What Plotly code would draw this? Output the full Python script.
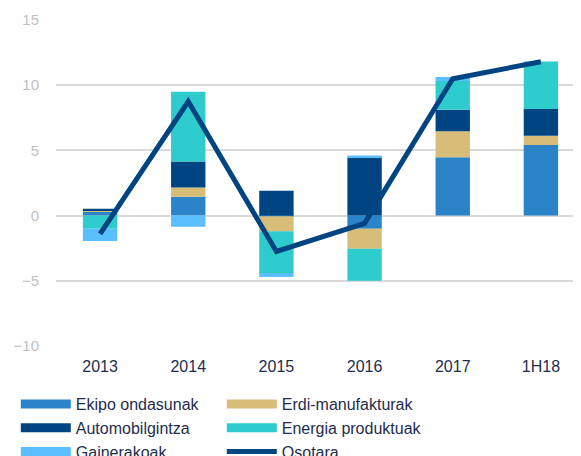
import plotly.graph_objects as go

categories = ["2013", "2014", "2015", "2016", "2017", "1H18"]
ekipo = [0.3, 1.45, -0.05, -1.0, 4.47, 5.42]
erdi = [0.1, 0.7, -1.15, -1.55, 2.0, 0.7]
auto = [0.12, 2.0, 1.9, 4.47, 1.65, 2.05]
energia = [-1.0, 5.35, -3.2, -2.45, 2.2, 3.65]
gainerakoak = [-0.95, -0.85, -0.3, 0.13, 0.3, 0.0]
osotara = [-1.4, 8.75, -2.75, -0.6, 10.5, 11.8]

series = [
    ("Ekipo ondasunak", ekipo, "#2b84c8"),
    ("Erdi-manufakturak", erdi, "#d7bd77"),
    ("Automobilgintza", auto, "#004481"),
    ("Energia produktuak", energia, "#2ecccc"),
    ("Gainerakoak", gainerakoak, "#5bbeff"),
]

fig = go.Figure()
for name, vals, col in series:
    fig.add_trace(go.Bar(x=categories, y=vals, name=name, marker=dict(color=col, line=dict(width=0)),
                         showlegend=False))
for name, vals, col in series:
    fig.add_trace(go.Scatter(x=[None], y=[None], mode="lines", name=name,
                             line=dict(color=col, width=9), showlegend=True))
fig.add_trace(go.Scatter(x=categories, y=osotara, mode="lines", name="Osotara",
                         line=dict(color="#004481", width=5)))

fig.update_layout(
    barmode="relative",
    bargap=0.61,
    width=581, height=456,
    margin=dict(l=48, r=4, t=12, b=118, autoexpand=False),
    plot_bgcolor="white", paper_bgcolor="white",
    font=dict(family="Liberation Sans, Arial, sans-serif", size=15, color="#1f2d4d"),
    xaxis=dict(showgrid=False, showline=False, ticks="", ticklabelstandoff=9,
               tickfont=dict(size=16, color="#1f2d4d")),
    yaxis=dict(range=[-10, 15], tickvals=[-10, -5, 0, 5, 10, 15], showgrid=True,
               gridcolor="#d9d9d9", gridwidth=2, zeroline=False, showline=False,
               tickfont=dict(size=15, color="#bfbfbf"), ticks="", ticklabelstandoff=16),
    legend=dict(orientation="h", x=-0.076, xanchor="left", y=-0.126, yanchor="top",
                entrywidth=141, entrywidthmode="pixels", itemwidth=50,
                font=dict(size=16, color="#1f2d4d"), tracegroupgap=0,
                bgcolor="rgba(0,0,0,0)"),
)

fig.write_html("out.html")
